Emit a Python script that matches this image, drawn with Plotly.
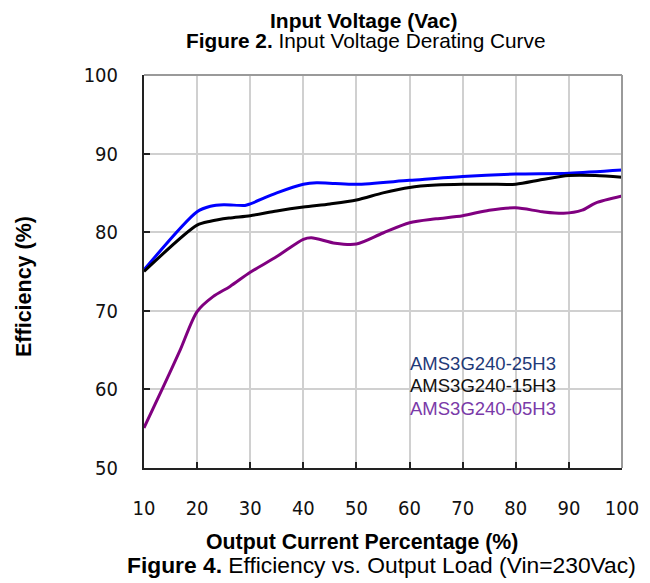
import plotly.graph_objects as go

load_25 = [10, 20, 22.5, 25, 29, 30, 35, 40, 42.5, 46, 50, 60, 70, 80, 90, 100]
eff_25 = [75.2, 82.6, 83.3, 83.5, 83.4, 83.6, 85.0, 86.1, 86.3, 86.2, 86.1, 86.6, 87.1, 87.4, 87.5, 87.9]

load_15 = [10, 20, 22.5, 26, 30, 35, 40, 45, 50, 55, 60, 65, 70, 75, 80, 85, 90, 95, 100]
eff_15 = [75.0, 80.9, 81.4, 81.8, 82.1, 82.7, 83.2, 83.6, 84.1, 85.0, 85.7, 86.0, 86.1, 86.1, 86.1, 86.7, 87.2, 87.2, 87.0]

load_05 = [10, 13.6, 16.8, 20, 23, 26.2, 30, 35, 40, 41.5, 46, 50, 55, 60, 65, 70, 75, 80, 85, 89, 92.5, 95, 100]
eff_05 = [55.1, 60.3, 65.0, 69.9, 71.8, 73.1, 74.9, 76.9, 79.1, 79.3, 78.6, 78.5, 79.9, 81.2, 81.7, 82.1, 82.8, 83.1, 82.6, 82.4, 82.8, 83.7, 84.6]

series_names = ["AMS3G240-25H3", "AMS3G240-15H3", "AMS3G240-05H3"]
line_colors = ["#0000ff", "#000000", "#800080"]
label_colors = ["#1f3a78", "#111111", "#7a3aa8"]

x_ticks = [10, 20, 30, 40, 50, 60, 70, 80, 90, 100]
y_ticks = [50, 60, 70, 80, 90, 100]

fig = go.Figure()
for xs, ys, c, n in [(load_25, eff_25, line_colors[0], series_names[0]),
                     (load_15, eff_15, line_colors[1], series_names[1]),
                     (load_05, eff_05, line_colors[2], series_names[2])]:
    fig.add_trace(go.Scatter(x=xs, y=ys, mode="lines", name=n,
                             line=dict(color=c, width=3, shape="spline", smoothing=0.8)))

tick_font = dict(family="DejaVu Sans Condensed, Liberation Sans Narrow, Arial Narrow, sans-serif",
                 size=20, color="#111")

# page has an 8px body margin; plot area should land at screen x 144..622, y 75..468
fig.update_layout(
    width=642, height=575,
    margin=dict(l=136, r=28, t=67, b=115, autoexpand=False),
    paper_bgcolor="white", plot_bgcolor="white",
    showlegend=False,
    font=dict(family="Liberation Sans, Arial, sans-serif", color="#000"),
    xaxis=dict(range=[10, 100], tickvals=x_ticks, ticktext=[str(v) for v in x_ticks],
               automargin=False,
               showgrid=True, gridcolor="#d0d0d0", gridwidth=2,
               showline=True, linecolor="#222", linewidth=2, zeroline=False,
               ticks="inside", ticklen=6, tickcolor="#222", tickwidth=2,
               tickfont=tick_font, ticklabelstandoff=21),
    yaxis=dict(range=[50, 100], tickvals=y_ticks, ticktext=[str(v) for v in y_ticks],
               automargin=False,
               showgrid=True, gridcolor="#d0d0d0", gridwidth=2,
               showline=True, linecolor="#222", linewidth=2, zeroline=False,
               ticks="inside", ticklen=6, tickcolor="#222", tickwidth=2,
               tickfont=tick_font, ticklabelstandoff=20),
)

# top/right border (grey)
fig.add_shape(type="line", xref="paper", yref="paper", x0=0, x1=1, y0=1, y1=1,
              line=dict(color="#9a9a9a", width=2))
fig.add_shape(type="line", xref="paper", yref="paper", x0=1, x1=1, y0=0, y1=1,
              line=dict(color="#9a9a9a", width=2))


def to_paper_x(px):
    return (px - 144) / 478


def to_paper_y(py):
    return (468 - py) / 393


# legend labels as text
for i, (n, c) in enumerate(zip(series_names, label_colors)):
    fig.add_annotation(x=to_paper_x(408), y=to_paper_y(363 + 22.5 * i),
                       xref="paper", yref="paper", text=n, showarrow=False,
                       xanchor="left", yanchor="middle",
                       font=dict(size=18.5, color=c, family="Liberation Sans, Arial"))


def ann(text, px, py, size=16, angle=0):
    fig.add_annotation(x=to_paper_x(px), y=to_paper_y(py), xref="paper", yref="paper",
                       text=text, showarrow=False, xanchor="center", yanchor="middle",
                       textangle=angle, borderpad=0,
                       font=dict(size=size, color="#000", family="Liberation Sans, Arial"))


ann("<b>Input Voltage (Vac)</b>", 363, 20, size=21)
ann("<b>Figure 2.</b> Input Voltage Derating Curve", 366, 40, size=20.8)
ann("<b>Output Current Percentage (%)</b>", 362, 542, size=21.3)
ann("<b>Figure 4.</b> Efficiency vs. Output Load (Vin=230Vac)", 381, 565, size=22.8)
ann("<b>Efficiency (%)</b>", 24, 287, size=21.5, angle=-90)

fig.write_html("out.html")
